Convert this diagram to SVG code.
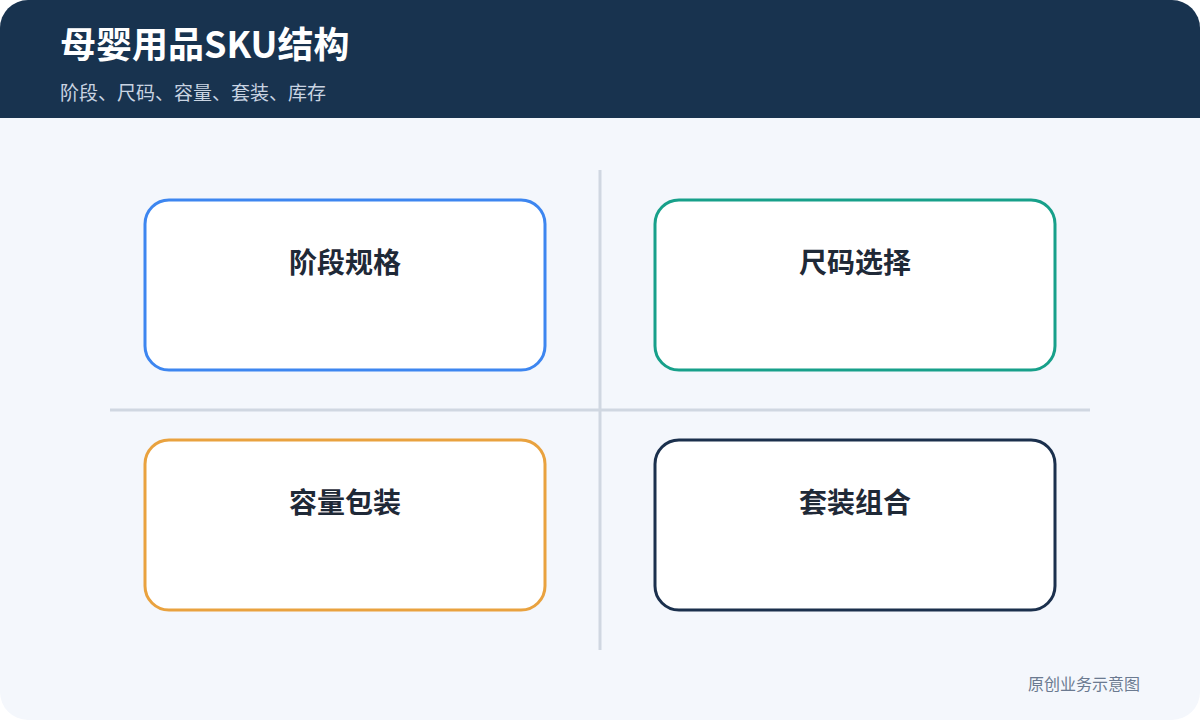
<svg xmlns="http://www.w3.org/2000/svg" width="1200" height="720" viewBox="0 0 1200 720">
<defs>
<style>
.card{fill:#ffffff;stroke-width:3}
.lbl{font-family:"Noto Sans CJK SC","Noto Sans",sans-serif;font-size:28px;font-weight:700;fill:#1f2937;text-anchor:middle}
.div{stroke:#d0d7e1;stroke-width:3;fill:none}
</style>
<clipPath id="cv"><rect x="0" y="0" width="1200" height="720" rx="28"/></clipPath>
</defs>
<rect x="0" y="0" width="1200" height="720" fill="#ffffff"/>
<g clip-path="url(#cv)">
<rect x="0" y="0" width="1200" height="720" fill="#f4f7fc"/>
<rect x="0" y="0" width="1200" height="118" fill="#18334f"/>
</g>
<text x="60" y="58" font-family="Noto Sans CJK SC,Noto Sans,sans-serif" font-size="36" font-weight="700" fill="#ffffff">母婴用品SKU结构</text>
<text x="60" y="100" font-family="Noto Sans CJK SC,Noto Sans,sans-serif" font-size="19" fill="#c9d4e2">阶段、尺码、容量、套装、库存</text>
<g id="connectors">
<line class="div" x1="600" y1="170" x2="600" y2="650"/>
<line class="div" x1="110" y1="410" x2="1090" y2="410"/>
</g>
<g id="n1"><rect class="card" x="145" y="200" width="400" height="170" rx="24" stroke="#3d86f0"/><text class="lbl" x="345" y="273">阶段规格</text></g>
<g id="n2"><rect class="card" x="655" y="200" width="400" height="170" rx="24" stroke="#17a08a"/><text class="lbl" x="855" y="273">尺码选择</text></g>
<g id="n3"><rect class="card" x="145" y="440" width="400" height="170" rx="24" stroke="#e9a23f"/><text class="lbl" x="345" y="513">容量包装</text></g>
<g id="n4"><rect class="card" x="655" y="440" width="400" height="170" rx="24" stroke="#1b304d"/><text class="lbl" x="855" y="513">套装组合</text></g>
<text x="1140" y="690" text-anchor="end" font-family="Noto Sans CJK SC,Noto Sans,sans-serif" font-size="16" fill="#6b7a90">原创业务示意图</text>
</svg>
